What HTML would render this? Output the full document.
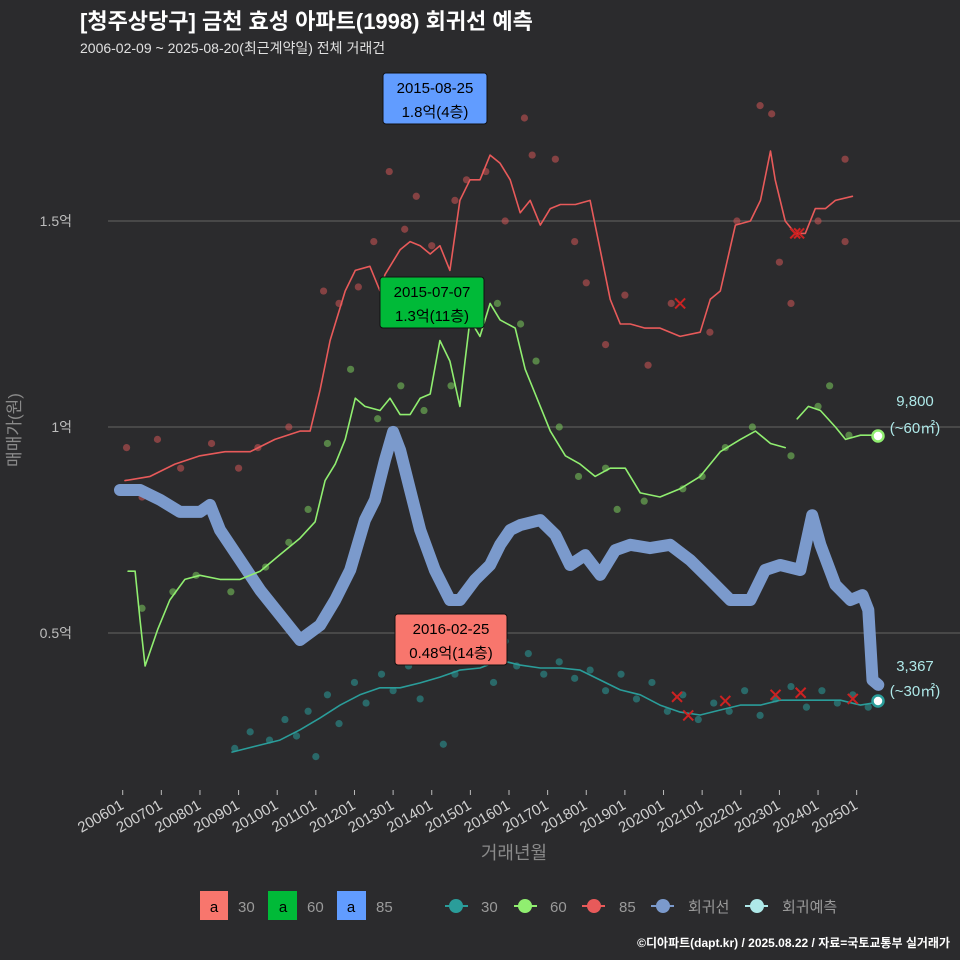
<!DOCTYPE html>
<html><head><meta charset="utf-8">
<style>
html,body{margin:0;padding:0;background:#2b2b2d;}
svg{display:block;font-family:"Liberation Sans","Noto Sans CJK KR",sans-serif;}
</style></head>
<body>
<svg id="chart" width="960" height="960" viewBox="0 0 960 960" xmlns="http://www.w3.org/2000/svg">
<rect width="960" height="960" fill="#2b2b2d"/>
<text x="80" y="29" fill="#ffffff" font-size="22" font-weight="bold">[청주상당구] 금천 효성 아파트(1998) 회귀선 예측</text>
<text x="80" y="53" fill="#e0e0e0" font-size="14">2006-02-09 ~ 2025-08-20(최근계약일) 전체 거래건</text>
<g id="grid"></g>
<g id="marks"></g>
<text transform="translate(20,430) rotate(-90)" text-anchor="middle" fill="#8a8a8a" font-size="17">매매가(원)</text>
<text x="514" y="859" text-anchor="middle" fill="#8a8a8a" font-size="18">거래년월</text>
<g font-size="15" fill="#9a9a9a">
 <g><rect x="200" y="891" width="28" height="29" fill="#f8766d"/><text x="214" y="912" text-anchor="middle" fill="#000">a</text><text x="238" y="912">30</text></g>
 <g><rect x="268" y="891" width="29" height="29" fill="#00ba38"/><text x="283" y="912" text-anchor="middle" fill="#000">a</text><text x="307" y="912">60</text></g>
 <g><rect x="337" y="891" width="29" height="29" fill="#619cff"/><text x="351" y="912" text-anchor="middle" fill="#000">a</text><text x="376" y="912">85</text></g>
 <g><line x1="445" y1="906" x2="468" y2="906" stroke="#2a9d9a" stroke-width="2"/><circle cx="456" cy="906" r="7" fill="#2a9d9a"/><text x="481" y="912">30</text></g>
 <g><line x1="514" y1="906" x2="537" y2="906" stroke="#90ee70" stroke-width="2"/><circle cx="525" cy="906" r="7" fill="#90ee70"/><text x="550" y="912">60</text></g>
 <g><line x1="582" y1="906" x2="605" y2="906" stroke="#e85a5a" stroke-width="2"/><circle cx="594" cy="906" r="7" fill="#e85a5a"/><text x="619" y="912">85</text></g>
 <g><line x1="651" y1="906" x2="674" y2="906" stroke="#7b9acc" stroke-width="2"/><circle cx="663" cy="906" r="7" fill="#7b9acc"/><text x="688" y="912">회귀선</text></g>
 <g><line x1="745" y1="906" x2="768" y2="906" stroke="#aee8e8" stroke-width="2"/><circle cx="757" cy="906" r="7" fill="#aee8e8"/><text x="782" y="912">회귀예측</text></g>
</g>
<text x="950" y="947" text-anchor="end" fill="#ffffff" font-size="12" font-weight="bold">©디아파트(dapt.kr) / 2025.08.22 / 자료=국토교통부 실거래가</text>
</svg>
<script>
const yTicks=[0.5,1,1.5];
const yTickLabels=["0.5억","1억","1.5억"];
const xTickYears=[2006,2007,2008,2009,2010,2011,2012,2013,2014,2015,2016,2017,2018,2019,2020,2021,2022,2023,2024,2025];
const xTickLabels=["200601","200701","200801","200901","201001","201101","201201","201301","201401","201501","201601","201701","201801","201901","202001","202101","202201","202301","202401","202501"];

const redYears=[2006.06,2006.71,2007.35,2008.0,2008.65,2009.3,2009.94,2010.59,2010.85,2011.11,2011.37,2011.76,2012.02,2012.4,2012.66,2012.79,2013.18,2013.44,2013.7,2013.96,2014.21,2014.47,2014.73,2014.99,2015.25,2015.51,2015.77,2016.03,2016.29,2016.55,2016.81,2017.07,2017.33,2017.72,2018.1,2018.36,2018.62,2018.88,2019.14,2019.52,2019.91,2020.43,2020.95,2021.21,2021.47,2021.86,2022.25,2022.51,2022.77,2022.89,2023.15,2023.41,2023.67,2023.93,2024.19,2024.45,2024.89];
const redValues=[0.87,0.88,0.91,0.93,0.94,0.94,0.97,0.99,0.99,1.09,1.21,1.33,1.38,1.39,1.33,1.37,1.43,1.45,1.44,1.42,1.44,1.38,1.55,1.6,1.6,1.66,1.64,1.6,1.52,1.55,1.49,1.53,1.54,1.54,1.55,1.43,1.31,1.25,1.25,1.24,1.24,1.22,1.23,1.31,1.33,1.49,1.5,1.55,1.67,1.6,1.5,1.47,1.47,1.53,1.53,1.55,1.56];

const greenYears=[2006.14,2006.32,2006.45,2006.58,2006.91,2007.22,2007.61,2008.0,2008.52,2009.04,2009.56,2010.07,2010.59,2010.98,2011.24,2011.5,2011.76,2012.02,2012.27,2012.66,2012.92,2013.18,2013.44,2013.7,2013.96,2014.21,2014.47,2014.73,2014.86,2014.99,2015.25,2015.51,2015.77,2016.16,2016.42,2016.81,2017.07,2017.46,2017.84,2018.23,2018.62,2019.01,2019.4,2019.91,2020.43,2020.95,2021.47,2021.99,2022.38,2022.77,2023.15,2023.3,2023.46,2023.75,2024.06,2024.45,2024.71,2025.1,2025.56];
const greenValues=[0.65,0.65,0.53,0.42,0.51,0.58,0.63,0.64,0.63,0.63,0.65,0.69,0.73,0.77,0.87,0.91,0.97,1.07,1.05,1.04,1.07,1.03,1.03,1.07,1.08,1.21,1.16,1.05,1.16,1.26,1.22,1.3,1.26,1.24,1.14,1.05,0.99,0.93,0.91,0.88,0.9,0.9,0.84,0.83,0.85,0.88,0.94,0.97,0.99,0.96,0.95,null,1.02,1.05,1.04,1.0,0.97,0.98,0.98];

const blueYears=[2005.93,2006.45,2006.97,2007.48,2008.0,2008.26,2008.52,2009.04,2009.56,2010.07,2010.59,2011.11,2011.5,2011.89,2012.27,2012.53,2012.79,2013.0,2013.18,2013.44,2013.7,2014.08,2014.47,2014.73,2015.12,2015.51,2015.77,2016.03,2016.29,2016.81,2017.2,2017.58,2017.97,2018.36,2018.75,2019.14,2019.65,2020.17,2020.69,2021.21,2021.73,2022.25,2022.63,2023.02,2023.54,2023.85,2024.06,2024.45,2024.84,2025.15,2025.3,2025.41,2025.56];
const blueValues=[0.847,0.847,0.823,0.794,0.794,0.811,0.75,0.677,0.604,0.544,0.483,0.519,0.58,0.653,0.774,0.823,0.92,0.988,0.944,0.847,0.75,0.653,0.58,0.58,0.629,0.665,0.714,0.75,0.762,0.774,0.738,0.665,0.689,0.641,0.701,0.714,0.706,0.714,0.677,0.629,0.58,0.58,0.653,0.665,0.653,0.786,0.714,0.617,0.58,0.592,0.556,0.386,0.374];

const cyanYears=[2008.83,2009.55,2010.07,2010.59,2011.11,2011.63,2012.14,2012.66,2013.18,2013.7,2014.21,2014.73,2015.25,2015.77,2016.29,2016.81,2017.33,2017.84,2018.36,2018.88,2019.4,2019.91,2020.43,2020.95,2021.47,2021.99,2022.51,2023.02,2023.54,2024.06,2024.58,2025.1,2025.56];
const cyanValues=[0.211,0.228,0.24,0.265,0.294,0.325,0.35,0.367,0.367,0.379,0.393,0.41,0.415,0.434,0.422,0.415,0.415,0.41,0.386,0.362,0.35,0.325,0.308,0.301,0.313,0.325,0.325,0.337,0.337,0.337,0.337,0.325,0.332];

const redPtYears=[2006.1,2006.5,2006.9,2007.5,2008.3,2009.0,2009.5,2010.3,2011.2,2011.6,2012.1,2012.5,2012.9,2013.3,2013.6,2014.0,2014.6,2014.9,2015.4,2015.9,2016.4,2016.6,2017.2,2017.7,2018.0,2018.5,2019.0,2019.6,2020.2,2021.2,2021.9,2022.5,2022.8,2023.0,2023.3,2024.0,2024.7,2024.7];
const redPtValues=[0.95,0.83,0.97,0.9,0.96,0.9,0.95,1.0,1.33,1.3,1.34,1.45,1.62,1.48,1.56,1.44,1.55,1.6,1.62,1.5,1.75,1.66,1.65,1.45,1.35,1.2,1.32,1.15,1.3,1.23,1.5,1.78,1.76,1.4,1.3,1.5,1.65,1.45];
const greenPtYears=[2006.5,2007.3,2007.9,2008.8,2009.7,2010.3,2010.8,2011.3,2011.9,2012.6,2013.2,2013.8,2014.5,2015.2,2015.7,2016.3,2016.7,2017.3,2017.8,2018.5,2018.8,2019.5,2020.5,2021.0,2021.6,2022.3,2023.3,2024.0,2024.3,2024.8];
const greenPtValues=[0.56,0.6,0.64,0.6,0.66,0.72,0.8,0.96,1.14,1.02,1.1,1.04,1.1,1.28,1.3,1.25,1.16,1.0,0.88,0.9,0.8,0.82,0.85,0.88,0.95,1.0,0.93,1.05,1.1,0.98];
const cyanPtYears=[2008.9,2009.3,2009.8,2010.2,2010.5,2010.8,2011.0,2011.3,2011.6,2012.0,2012.3,2012.7,2013.0,2013.4,2013.7,2014.0,2014.3,2014.6,2015.0,2015.3,2015.6,2015.9,2016.2,2016.5,2016.9,2017.3,2017.7,2018.1,2018.5,2018.9,2019.3,2019.7,2020.1,2020.5,2020.9,2021.3,2021.7,2022.1,2022.5,2022.9,2023.3,2023.7,2024.1,2024.5,2024.9,2025.3];
const cyanPtValues=[0.22,0.26,0.24,0.29,0.25,0.31,0.2,0.35,0.28,0.38,0.33,0.4,0.36,0.42,0.34,0.45,0.23,0.4,0.44,0.46,0.38,0.48,0.42,0.45,0.4,0.43,0.39,0.41,0.36,0.4,0.34,0.38,0.31,0.35,0.29,0.33,0.31,0.36,0.3,0.34,0.37,0.32,0.36,0.33,0.35,0.32];
const xMarkYears=[2020.43,2023.41,2023.51,2020.35,2020.64,2021.6,2022.9,2023.55,2024.9];
const xMarkValues=[1.3,1.47,1.47,0.345,0.3,0.335,0.35,0.355,0.34];

function X(yr){return 122.7+(yr-2006)*38.63;}
function Y(v){return 427-(v-1)*412;}
const NS="http://www.w3.org/2000/svg";
function mk(tag,attrs,parent){const e=document.createElementNS(NS,tag);for(const k in attrs)e.setAttribute(k,attrs[k]);parent.appendChild(e);return e;}
const grid=document.getElementById('grid');
const marks=document.getElementById('marks');
const svg=document.getElementById('chart');

yTicks.forEach((t,i)=>{
  const l=mk('line',{x1:108,x2:960,y1:Y(t),y2:Y(t),stroke:'#5a5a5a','stroke-width':1.2},grid);
  
  
  const tx=mk('text',{x:72,y:Y(t)+5,'text-anchor':'end',fill:'#bdbdbd','font-size':14},grid);
  tx.textContent=yTickLabels[i];
  
  
});
xTickYears.forEach((yr,i)=>{
  const l=mk('line',{x1:X(yr),x2:X(yr),y1:790,y2:795,stroke:'#bbb'},grid);
  
  
  const tx=mk('text',{transform:`translate(${X(yr)+2},${808}) rotate(-30)`,'text-anchor':'end',fill:'#d0d0d0','font-size':15},grid);
  tx.textContent=xTickLabels[i];
  
  
});

function pts(ys,vs,color,name){
  ys.forEach((yr,i)=>{
    const c=mk('circle',{cx:X(yr),cy:Y(vs[i]),r:3.6,fill:color,'fill-opacity':0.55},marks);
    
    
  });
}
function line(ys,vs,color,w,name){
  let d='',pen=false;
  ys.forEach((yr,i)=>{
    if(vs[i]===null){pen=false;return;}
    d+=(pen?'L':'M')+X(yr).toFixed(1)+','+Y(vs[i]).toFixed(1);pen=true;
  });
  const p=mk('path',{d:d,fill:'none',stroke:color,'stroke-width':w,'stroke-linejoin':'round','stroke-linecap':'round'},marks);
  
  
}
pts(cyanPtYears,cyanPtValues,'#2a9d9a','point-30');
pts(greenPtYears,greenPtValues,'#7ccc5c','point-60');
pts(redPtYears,redPtValues,'#d05555','point-85');
line(blueYears,blueValues,'#7b9acc',12,'regression-line');
line(cyanYears,cyanValues,'#2a9d9a',1.6,'line-30');
line(greenYears,greenValues,'#90ee70',1.6,'line-60');
line(redYears,redValues,'#e85a5a',1.6,'line-85');
xMarkYears.forEach((yr,i)=>{
  const g=mk('path',{d:`M${X(yr)-5},${Y(xMarkValues[i])-5}l10,10m0,-10l-10,10`,stroke:'#cc2222','stroke-width':2},marks);
  
  
});
const e1=mk('circle',{cx:878,cy:436,r:5.5,fill:'#fff',stroke:'#90ee70','stroke-width':2.5},marks);


const e2=mk('circle',{cx:878,cy:701,r:5.5,fill:'#fff',stroke:'#2a9d9a','stroke-width':2.5},marks);



function box(x,y,w,h,fill,l1,l2,name){
  const g=mk('g',{},svg);
  
  
  mk('rect',{x:x,y:y,width:w,height:h,rx:3,fill:fill,stroke:'#111','stroke-width':1},g);
  const t1=mk('text',{x:x+w/2,y:y+20,'text-anchor':'middle','font-size':15,fill:'#000'},g);t1.textContent=l1;
  const t2=mk('text',{x:x+w/2,y:y+44,'text-anchor':'middle','font-size':15,fill:'#000'},g);t2.textContent=l2;
}
box(383,73,104,51,'#619cff','2015-08-25','1.8억(4층)','annotation-max-85');
box(380,277,104,51,'#00ba38','2015-07-07','1.3억(11층)','annotation-max-60');
box(395,614,112,51,'#f8766d','2016-02-25','0.48억(14층)','annotation-max-30');
[[915,406,'9,800','prediction-label-60'],[915,433,'(~60㎡)','prediction-area-60'],[915,671,'3,367','prediction-label-30'],[915,696,'(~30㎡)','prediction-area-30']].forEach(a=>{
  const t=mk('text',{x:a[0],y:a[1],'text-anchor':'middle','font-size':15,fill:'#aee8e8'},svg);
  t.textContent=a[2];
  
  
});
</script>
</body></html>
